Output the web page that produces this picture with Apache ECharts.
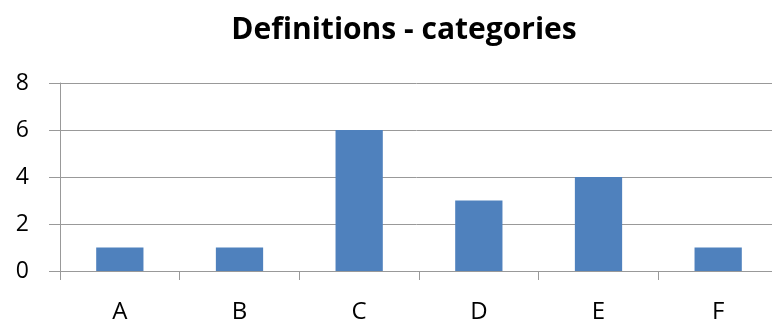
<!DOCTYPE html>
<html><head><meta charset="utf-8">
<script src="https://cdn.jsdelivr.net/npm/echarts@6/dist/echarts.min.js"></script>
<style>html,body{margin:0;padding:0;background:#fff}#c{width:772px;height:323px}</style>
</head><body><div id="c"></div>
<script>
const categories = ['A','B','C','D','E','F'];
const values = [1,1,6,3,4,1];
const yTicks = [0,2,4,6,8];
const chart = echarts.init(document.getElementById('c'));
chart.setOption({
  animation:false,
  title:{text:'Definitions - categories',left:399,top:10,textAlign:'center',
    textStyle:{fontFamily:'Open Sans',fontWeight:'bold',fontSize:30,color:'#000'}},
  grid:{left:60,top:83,width:718,height:188,containLabel:false,outerBoundsMode:'none'},
  xAxis:{type:'category',data:categories,
    axisLine:{lineStyle:{color:'#999999',width:1}},
    axisTick:{show:true,length:9,lineStyle:{color:'#999999'}},
    axisLabel:{fontFamily:'Open Sans',fontSize:24,color:'#000',margin:29}},
  yAxis:{type:'value',min:0,max:8,interval:2,
    axisLine:{show:true,lineStyle:{color:'#999999'}},
    axisTick:{show:true,length:11,lineStyle:{color:'#999999'}},
    splitLine:{lineStyle:{color:'#999999'}},
    axisLabel:{fontFamily:'Open Sans',fontSize:23,color:'#000',margin:31,
      formatter:v=>yTicks.includes(v)?String(v):''}},
  series:[{type:'bar',data:values,barWidth:'39.5%',itemStyle:{color:'#4f81bd'}}]
});
</script></body></html>
